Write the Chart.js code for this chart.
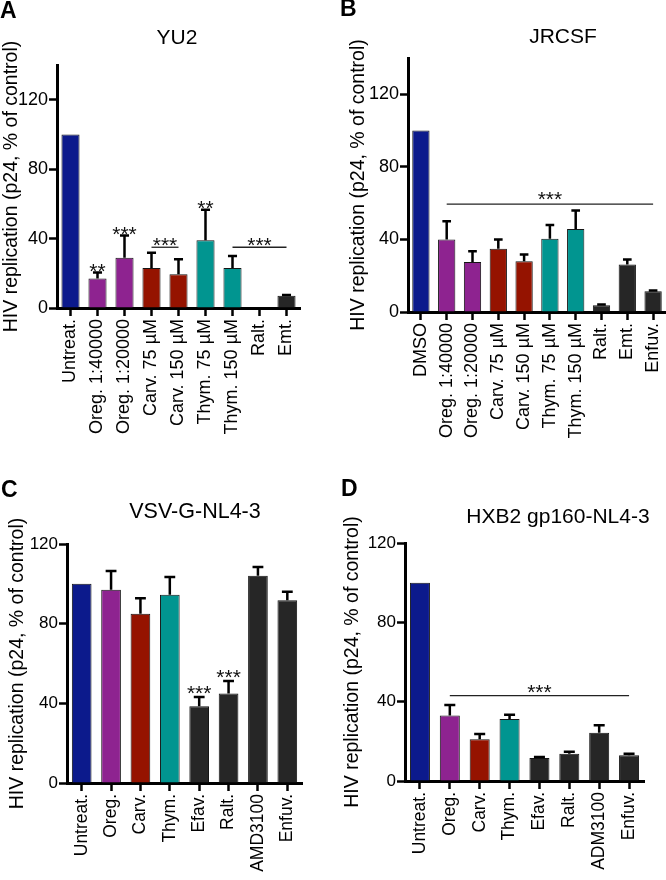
<!DOCTYPE html>
<html>
<head>
<meta charset="utf-8">
<script src="https://cdn.jsdelivr.net/npm/chart.js@4.4.1/dist/chart.umd.min.js"></script>
<style>
  html, body { margin: 0; padding: 0; background: #fff; }
  #fig { position: relative; width: 666px; height: 880px; }
  .panel { position: absolute; width: 333px; height: 440px; }
  canvas { display: block; }
</style>
</head>
<body>
<div id="fig">
  <div class="panel" style="left:0;top:0"><canvas id="chartA" width="333" height="440"></canvas></div>
  <div class="panel" style="left:333px;top:0"><canvas id="chartB" width="333" height="440"></canvas></div>
  <div class="panel" style="left:0;top:440px"><canvas id="chartC" width="333" height="440"></canvas></div>
  <div class="panel" style="left:333px;top:440px"><canvas id="chartD" width="333" height="440"></canvas></div>
</div>
<script>
// ---------------- data ----------------
var yTitle = 'HIV replication (p24, % of control)';

var titleA = 'YU2';
var labelsA = ['Untreat.', 'Oreg. 1:40000', 'Oreg. 1:20000', 'Carv. 75 µM', 'Carv. 150 µM', 'Thym. 75 µM', 'Thym. 150 µM', 'Ralt.', 'Emt.'];
var valuesA = [100, 17, 29, 23, 19.5, 39, 23, 0.4, 7];
var errorsA = [0, 3.4, 12.7, 8.8, 8.6, 17.6, 7, 0, 0.5];
var ticksA = [0, 40, 80, 120];
var sigA = [
  { from: 1, to: 1, text: '**' },
  { from: 2, to: 2, text: '***' },
  { from: 3, to: 4, text: '***', level: 35 },
  { from: 5, to: 5, text: '**' },
  { from: 6, to: 8, text: '***', level: 35 }
];

var titleB = 'JRCSF';
var labelsB = ['DMSO', 'Oreg. 1:40000', 'Oreg. 1:20000', 'Carv. 75 µM', 'Carv. 150 µM', 'Thym. 75 µM', 'Thym. 150 µM', 'Ralt.', 'Emt.', 'Enfuv.'];
var valuesB = [100, 40, 27.6, 34.8, 28, 40.4, 45.7, 3.7, 26.2, 11.4];
var errorsB = [0, 10, 5.9, 5.2, 3.7, 7.6, 10.3, 0.5, 2.8, 0.4];
var ticksB = [0, 40, 80, 120];
var sigB = [
  { from: 1, to: 9, text: '***', level: 59.5 }
];

var titleC = 'VSV-G-NL4-3';
var labelsC = ['Untreat.', 'Oreg.', 'Carv.', 'Thym.', 'Efav.', 'Ralt.', 'AMD3100', 'Enfuv.'];
var valuesC = [100, 97, 85, 94.5, 38.5, 45, 104, 91.8];
var errorsC = [0, 9.5, 7.7, 8.9, 4.7, 6.2, 4.5, 4.2];
var ticksC = [0, 40, 80, 120];
var sigC = [
  { from: 4, to: 4, text: '***' },
  { from: 5, to: 5, text: '***' }
];

var titleD = 'HXB2 gp160-NL4-3';
var labelsD = ['Untreat.', 'Oreg.', 'Carv.', 'Thym.', 'Efav.', 'Ralt.', 'ADM3100', 'Enfuv.'];
var valuesD = [100, 33, 21, 31.2, 11.6, 13.8, 24.3, 13];
var errorsD = [0, 5.3, 2.7, 2.2, 0.5, 0.9, 3.8, 0.7];
var ticksD = [0, 40, 80, 120];
var sigD = [
  { from: 1, to: 7, text: '***', level: 43 }
];

// ---------------- styles ----------------
var BLUE = '#0c1a8c', PURPLE = '#8e2390', RED = '#951300', TEAL = '#019590', DARK = '#262626';
var colorsA = [BLUE, PURPLE, PURPLE, RED, RED, TEAL, TEAL, DARK, DARK];
var colorsB = [BLUE, PURPLE, PURPLE, RED, RED, TEAL, TEAL, DARK, DARK, DARK];
var colorsC = [BLUE, PURPLE, RED, TEAL, DARK, DARK, DARK, DARK];
var colorsD = [BLUE, PURPLE, RED, TEAL, DARK, DARK, DARK, DARK];

var FONT = "'Liberation Sans', Arial, Helvetica, sans-serif";
var STAR = 21;
Chart.defaults.font.family = FONT;
Chart.defaults.color = '#000';

// error bars, significance marks, panel letter and title
function overlay(errors, sig, letter, title, lay) {
  return {
    id: 'overlay',
    afterDatasetsDraw: function (chart) {
      var ctx = chart.ctx;
      var meta = chart.getDatasetMeta(0);
      var y = chart.scales.y;
      var vals = chart.data.datasets[0].data;
      ctx.save();
      ctx.strokeStyle = '#000';
      ctx.lineWidth = 2.5;
      meta.data.forEach(function (bar, i) {
        if (!errors[i]) return;
        var top = y.getPixelForValue(vals[i] + errors[i]);
        var base = y.getPixelForValue(vals[i]);
        var cap = bar.width * lay.cap / 2;
        ctx.beginPath();
        ctx.moveTo(bar.x, base);
        ctx.lineTo(bar.x, top);
        ctx.moveTo(bar.x - cap, top);
        ctx.lineTo(bar.x + cap, top);
        ctx.stroke();
      });

      ctx.fillStyle = '#111';
      ctx.font = STAR + 'px ' + FONT;
      ctx.textAlign = 'center';
      ctx.textBaseline = 'alphabetic';
      ctx.lineWidth = 1.3;
      ctx.strokeStyle = '#222';
      sig.forEach(function (s) {
        var x1 = meta.data[s.from].x, x2 = meta.data[s.to].x;
        var yb;
        if (s.level !== undefined) {
          yb = y.getPixelForValue(s.level);
          ctx.beginPath();
          ctx.moveTo(x1, yb);
          ctx.lineTo(x2, yb);
          ctx.stroke();
        } else {
          yb = y.getPixelForValue(vals[s.from] + errors[s.from]);
        }
        ctx.fillText(s.text, (x1 + x2) / 2, yb - lay.gap + 0.44 * STAR);
      });

      ctx.fillStyle = '#000';
      ctx.textAlign = 'left';
      ctx.font = 'bold 23px ' + FONT;
      ctx.fillText(letter, lay.letter[0], lay.letter[1]);
      ctx.textAlign = 'center';
      ctx.textBaseline = 'middle';
      ctx.font = lay.titleSize + 'px ' + FONT;
      ctx.fillText(title, lay.title[0], lay.title[1]);
      ctx.restore();
    }
  };
}

function makePanel(id, labels, values, errors, colors, yTicks, sig, letter, title, lay) {
  var ctx = document.getElementById(id).getContext('2d');
  return new Chart(ctx, {
    type: 'bar',
    data: {
      labels: labels,
      datasets: [{
        data: values,
        backgroundColor: colors,
        borderColor: '#151515',
        borderWidth: 1,
        barPercentage: 0.67,
        categoryPercentage: 1
      }]
    },
    options: {
      responsive: false,
      animation: false,
      events: [],
      layout: { padding: { top: lay.top, right: lay.right, bottom: 0, left: 0 } },
      plugins: { legend: { display: false }, tooltip: { enabled: false } },
      scales: {
        x: {
          offset: true,
          grid: { offset: false, drawOnChartArea: false, tickLength: 8, tickWidth: 2.5, tickColor: '#000' },
          border: { display: true, color: '#000', width: 3 },
          ticks: { autoSkip: false, minRotation: 90, maxRotation: 90, padding: 3, color: '#000', font: { size: lay.labelSize } },
          afterFit: function (s) { s.height = lay.xh; s.paddingLeft = 0; s.paddingRight = 0; }
        },
        y: {
          min: 0,
          max: lay.max,
          afterBuildTicks: function (s) { s.ticks = yTicks.map(function (v) { return { value: v }; }); },
          grid: { drawOnChartArea: false, tickLength: 8, tickWidth: 2.5, tickColor: '#000' },
          border: { display: true, color: '#000', width: 3 },
          ticks: { padding: 1, color: '#000', font: { size: lay.tickSize } },
          title: { display: true, text: yTitle, color: '#000', font: { size: 19.5 }, padding: { top: lay.yTitlePad, bottom: 0 } },
          afterFit: function (s) { s.width = lay.yw; s.paddingTop = 0; s.paddingBottom = 0; }
        }
      }
    },
    plugins: [overlay(errors, sig, letter, title, lay)]
  });
}

var chartA = makePanel('chartA', labelsA, valuesA, errorsA, colorsA, ticksA, sigA, 'A', titleA,
  { top: 65, right: 33, xh: 132, yw: 57, max: 140, yTitlePad: 0, tickSize: 18, labelSize: 18, cap: 0.5, gap: 4,
    letter: [0, 18], title: [177, 38], titleSize: 21 });

var chartB = makePanel('chartB', labelsB, valuesB, errorsB, colorsB, ticksB, sigB, 'B', titleB,
  { top: 58, right: 0, xh: 128, yw: 75, max: 140, yTitlePad: 14, tickSize: 18, labelSize: 18, cap: 0.5, gap: 7,
    letter: [7, 16], title: [230, 37], titleSize: 21 });

var chartC = makePanel('chartC', labelsC, valuesC, errorsC, colorsC, ticksC, sigC, 'C', titleC,
  { top: 104, right: 31, xh: 97, yw: 67, max: 120, yTitlePad: 6, tickSize: 17, labelSize: 17.5, cap: 0.55, gap: 6,
    letter: [1, 57], title: [195, 72], titleSize: 21.5 });

var chartD = makePanel('chartD', labelsD, valuesD, errorsD, colorsD, ticksD, sigD, 'D', titleD,
  { top: 103, right: 22, xh: 99, yw: 72, max: 120, yTitlePad: 8, tickSize: 17, labelSize: 17.5, cap: 0.55, gap: 6,
    letter: [8, 56], title: [225, 77], titleSize: 21 });
</script>
</body>
</html>
